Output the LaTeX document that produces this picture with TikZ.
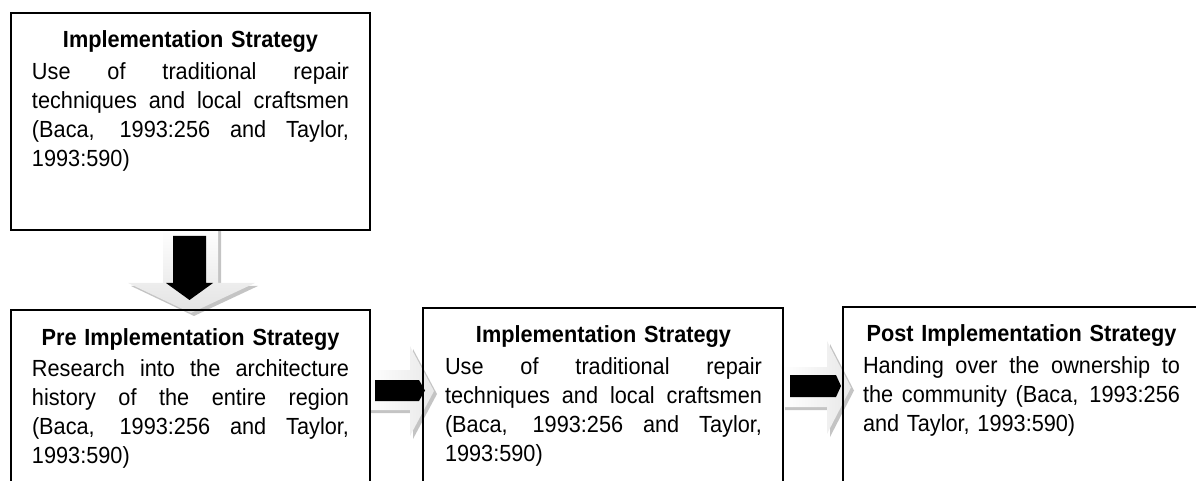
\documentclass[tikz,border=0pt]{standalone}
\usepackage{fontspec}
\setmainfont{Liberation Sans}[FakeStretch=0.93]
\usetikzlibrary{calc}
\setlength\parindent{0pt}
\definecolor{arrowshadow}{HTML}{C4C4C4}
\newcommand{\bodyfont}{\fontsize{11.67pt}{14.35pt}\selectfont}
\newcommand{\jl}[1]{\hbox to \hsize{\spaceskip=0pt plus 1fil\relax #1}}
\newcommand{\lastl}[1]{\hbox{#1}}
\newcommand{\heading}[1]{{\bfseries\centering #1\par}\vspace{1.65pt}}
\begin{document}
\begin{tikzpicture}[x=0.5pt,y=-0.5pt,
  box/.style={draw=black, line width=1pt, inner sep=0pt, outer sep=0pt, anchor=north west, rectangle},
  txt/.style={anchor=base west, inner sep=0pt, outer sep=0pt, text width=158.5pt, font=\bodyfont, align=left},
  lightdown/.style={draw=none, top color=white, bottom color=gray!22},
  lightright/.style={draw=none, left color=white, right color=gray!18},
  shadowarrow/.style={fill=arrowshadow, draw=none, shift={(3,3)}},
  blackarrow/.style={fill=black, draw=none}]
\useasboundingbox (0,0) rectangle (1196,481);
\clip (0,0) rectangle (1196,481);

% block arrows (drawn first, boxes on top)
% down arrow: top box -> pre implementation box
\fill[shadowarrow] (163,228) -- (218,228) -- (218,283) -- (255,283) -- (191,313) -- (128,283) -- (163,283) -- cycle;
\shade[lightdown] (163,228) -- (218,228) -- (218,283) -- (255,283) -- (191,313) -- (128,283) -- (163,283) -- cycle;
\fill[blackarrow] (173,236) -- (206,236) -- (206,283) -- (213,283) -- (189.5,300) -- (166,283) -- (173,283) -- cycle;
% right arrow 1: pre implementation -> implementation
\fill[shadowarrow] (367,370) -- (410,370) -- (410,346) -- (434,391) -- (410,436) -- (410,410) -- (367,410) -- cycle;
\shade[lightright] (367,370) -- (410,370) -- (410,346) -- (434,391) -- (410,436) -- (410,410) -- (367,410) -- cycle;
\fill[blackarrow] (375,380) -- (419,380) -- (425,390.5) -- (419,401) -- (375,401) -- cycle;
% right arrow 2: implementation -> post implementation
\fill[shadowarrow] (782,367) -- (827,367) -- (827,341) -- (851,387.5) -- (827,434) -- (827,407) -- (782,407) -- cycle;
\shade[lightright] (782,367) -- (827,367) -- (827,341) -- (851,387.5) -- (827,434) -- (827,407) -- (782,407) -- cycle;
\fill[blackarrow] (790,375) -- (836,375) -- (841,386) -- (836,397) -- (790,397) -- cycle;

% boxes
\node[box, minimum width=179.5pt, minimum height=108.5pt] (top) at (11,13) {};
\node[box, minimum width=179.5pt, minimum height=115pt] (b1) at (11,310) {};
\node[box, minimum width=180pt, minimum height=116pt] (b2) at (423,308) {};
\node[box, minimum width=190pt, minimum height=116pt] (b3) at (843,307) {};

% texts
\node[txt] (ttop) at ($(top.north west)+(21,35)$) {\heading{Implementation Strategy}%
\jl{Use of traditional repair}
\jl{techniques and local craftsmen}
\jl{(Baca, 1993:256 and Taylor,}
\lastl{1993:590)}};
\node[txt] (tb1) at ($(b1.north west)+(21,35)$) {\heading{Pre Implementation Strategy}%
\jl{Research into the architecture}
\jl{history of the entire region}
\jl{(Baca, 1993:256 and Taylor,}
\lastl{1993:590)}};
\node[txt] (tb2) at ($(b2.north west)+(22,35)$) {\heading{Implementation Strategy}%
\jl{Use of traditional repair}
\jl{techniques and local craftsmen}
\jl{(Baca, 1993:256 and Taylor,}
\lastl{1993:590)}};
\node[txt] (tb3) at ($(b3.north west)+(20,35)$) {\heading{Post Implementation Strategy}%
\jl{Handing over the ownership to}
\jl{the community (Baca, 1993:256}
\lastl{and Taylor, 1993:590)}};
\end{tikzpicture}
\end{document}
